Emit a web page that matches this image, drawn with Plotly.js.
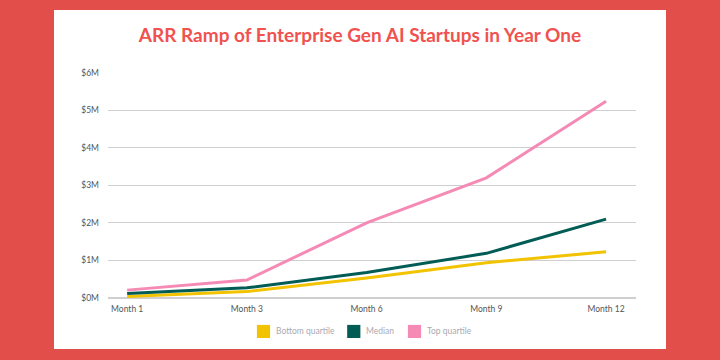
<!DOCTYPE html>
<html>
<head>
<meta charset="utf-8">
<script src="https://cdn.plot.ly/plotly-3.0.1.min.js"></script>
<style>
  html, body { margin: 0; padding: 0; width: 720px; height: 360px; background: #e24f4b; overflow: hidden; }
  #card { position: absolute; left: 54px; top: 10px; width: 612px; height: 339px; background: #ffffff; }
  #chart { width: 612px; height: 339px; }
</style>
</head>
<body>
<div id="card"><div id="chart"></div></div>
<script>
const months = ["Month 1", "Month 3", "Month 6", "Month 9", "Month 12"];
const bottomQuartile = [0.04, 0.17, 0.53, 0.94, 1.23];
const median = [0.12, 0.27, 0.68, 1.19, 2.10];
const topQuartile = [0.21, 0.48, 2.00, 3.20, 5.24];
const yTickVals = [0, 1, 2, 3, 4, 5, 6];
const yTickText = ["$0M", "$1M", "$2M", "$3M", "$4M", "$5M", "$6M"];
const seriesNames = ["Bottom quartile", "Median", "Top quartile"];
const seriesColors = ["#f2c300", "#005c55", "#f58ab5"];
const seriesData = [bottomQuartile, median, topQuartile];

const traces = seriesData.map((vals, i) => ({
  x: months, y: vals, type: "scatter", mode: "lines",
  name: seriesNames[i], showlegend: false,
  line: { color: seriesColors[i], width: 3 },
  hoverinfo: "skip"
}));

// custom legend (swatch squares + labels) laid out under the plot
const legendSwatchX = [0.282, 0.453, 0.568];
const swatchW = 0.025;
const shapes = [];
const annotations = [];
seriesNames.forEach((n, i) => {
  shapes.push({
    type: "rect", xref: "paper", yref: "paper",
    x0: legendSwatchX[i], x1: legendSwatchX[i] + swatchW,
    y0: -0.177, y1: -0.119,
    fillcolor: seriesColors[i], line: { width: 0 }
  });
  annotations.push({
    xref: "paper", yref: "paper",
    x: legendSwatchX[i] + swatchW + 0.007, y: -0.148,
    xanchor: "left", yanchor: "middle", showarrow: false,
    text: n, font: { size: 8.5, color: "#aaaab2" }
  });
});

const layout = {
  width: 612, height: 339,
  margin: { l: 54, r: 30, t: 62, b: 51 },
  paper_bgcolor: "#ffffff", plot_bgcolor: "#ffffff",
  font: { family: "Lato, 'Open Sans', sans-serif", color: "#666666", size: 8.5 },
  title: {
    text: "<b>ARR Ramp of Enterprise Gen AI Startups in Year One</b>",
    font: { family: "Lato, 'Open Sans', sans-serif", size: 19, color: "#f05250" },
    x: 0.5, xanchor: "center", y: 0.925, yanchor: "middle"
  },
  xaxis: {
    type: "category", range: [-0.16, 4.25],
    showgrid: false, zeroline: false, showline: false,
    ticks: "", ticklabelstandoff: 4, tickfont: { size: 8.5, color: "#555555" }
  },
  yaxis: {
    range: [0, 6.02], tickvals: yTickVals, ticktext: yTickText,
    showgrid: true, gridcolor: "#cfcfd2", gridwidth: 1,
    zeroline: true, zerolinecolor: "#cfcfd2", zerolinewidth: 2,
    showline: false, ticks: "", ticklabelstandoff: 8,
    tickfont: { size: 8.5, color: "#555555" }
  },
  shapes: shapes,
  annotations: annotations,
  showlegend: false
};

Plotly.newPlot("chart", traces, layout, { displayModeBar: false, staticPlot: true });
</script>
</body>
</html>
